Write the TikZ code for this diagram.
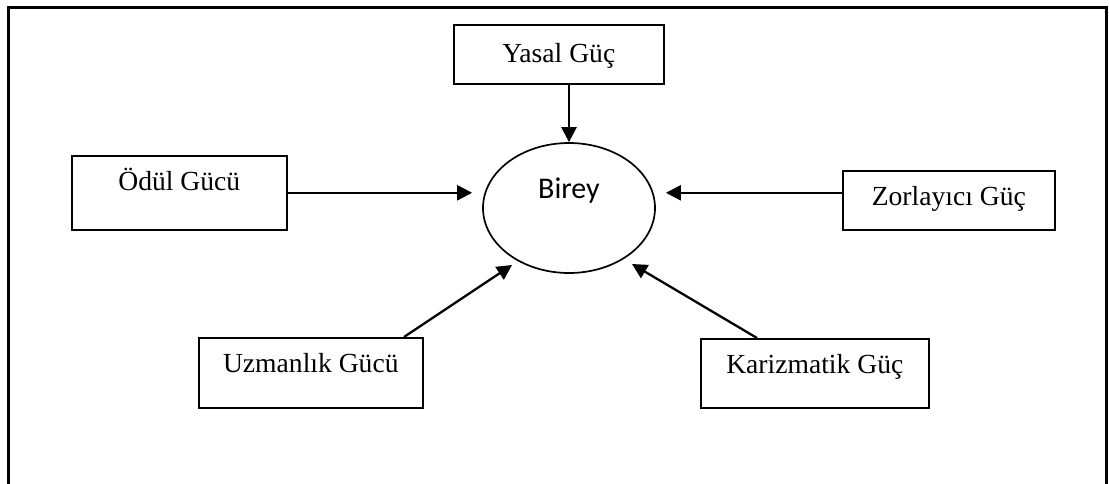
\documentclass[tikz,border=0pt]{standalone}
\usepackage{fontspec}
\setmainfont{Liberation Serif}
\newfontfamily\bireyfont{Carlito}
\usetikzlibrary{arrows.meta,shapes.geometric,calc}
\tikzset{
  frameline/.style={line width=3pt},
  powerbox/.style={draw, line width=1.6pt, inner sep=0pt, anchor=north west},
  boxtext/.style={anchor=base, yshift=-35pt, inner sep=0pt, font=\fontsize{27.6}{33}\selectfont},
  center/.style={draw, ellipse, line width=1.7pt, inner sep=0pt,
    minimum width=172pt, minimum height=130pt,
    text height=8pt, text depth=28pt, font=\bireyfont\fontsize{30}{35}\selectfont},
  arr/.style={line width=2.3pt, -{Triangle[length=15pt,width=15pt]}}
}
\begin{document}
\begin{tikzpicture}[x=1pt,y=-1pt]
\useasboundingbox (0,0) rectangle (1109,483);
% outer frame (bottom edge beyond the page)
\draw[frameline] (8,490) -- (8,7) -- (1106,7) -- (1106,490);
% nodes
\node[center] (birey) at (569,208) {Birey};
\node[powerbox, minimum width=210pt, minimum height=59pt,
      label={[boxtext, yshift=-3pt]north:Yasal Güç}] (yasal) at (453,24) {};
\node[powerbox, minimum width=215pt, minimum height=74pt,
      label={[boxtext]north:Ödül Gücü}] (odul) at (71,155) {};
\node[powerbox, minimum width=212pt, minimum height=59pt,
      label={[boxtext]north:Zorlayıcı Güç}] (zor) at (842,170) {};
\node[powerbox, minimum width=224pt, minimum height=70pt,
      label={[boxtext]north:Uzmanlık Gücü}] (uzm) at (198,337) {};
\node[powerbox, minimum width=228pt, minimum height=69pt,
      label={[boxtext]north:Karizmatik Güç}] (kar) at (700,338) {};
% connector ends
\coordinate (uzmstart) at ($(uzm.north west)+(206,0)$);
\coordinate (uzmtip) at (512,265);
\coordinate (karstart) at ($(kar.north west)+(57,0)$);
\coordinate (kartip) at (632,264);
% connectors
\draw[arr] (yasal.south -| birey.north) -- (birey.north);
\draw[arr, shorten >=10pt] (odul.east) -- (odul.east -| birey.west);
\draw[arr, shorten >=10pt] (zor.west |- odul.east) -- (odul.east -| birey.east);
\draw[arr] (uzmstart) -- (uzmtip);
\draw[arr] (karstart) -- (kartip);
\end{tikzpicture}
\end{document}
